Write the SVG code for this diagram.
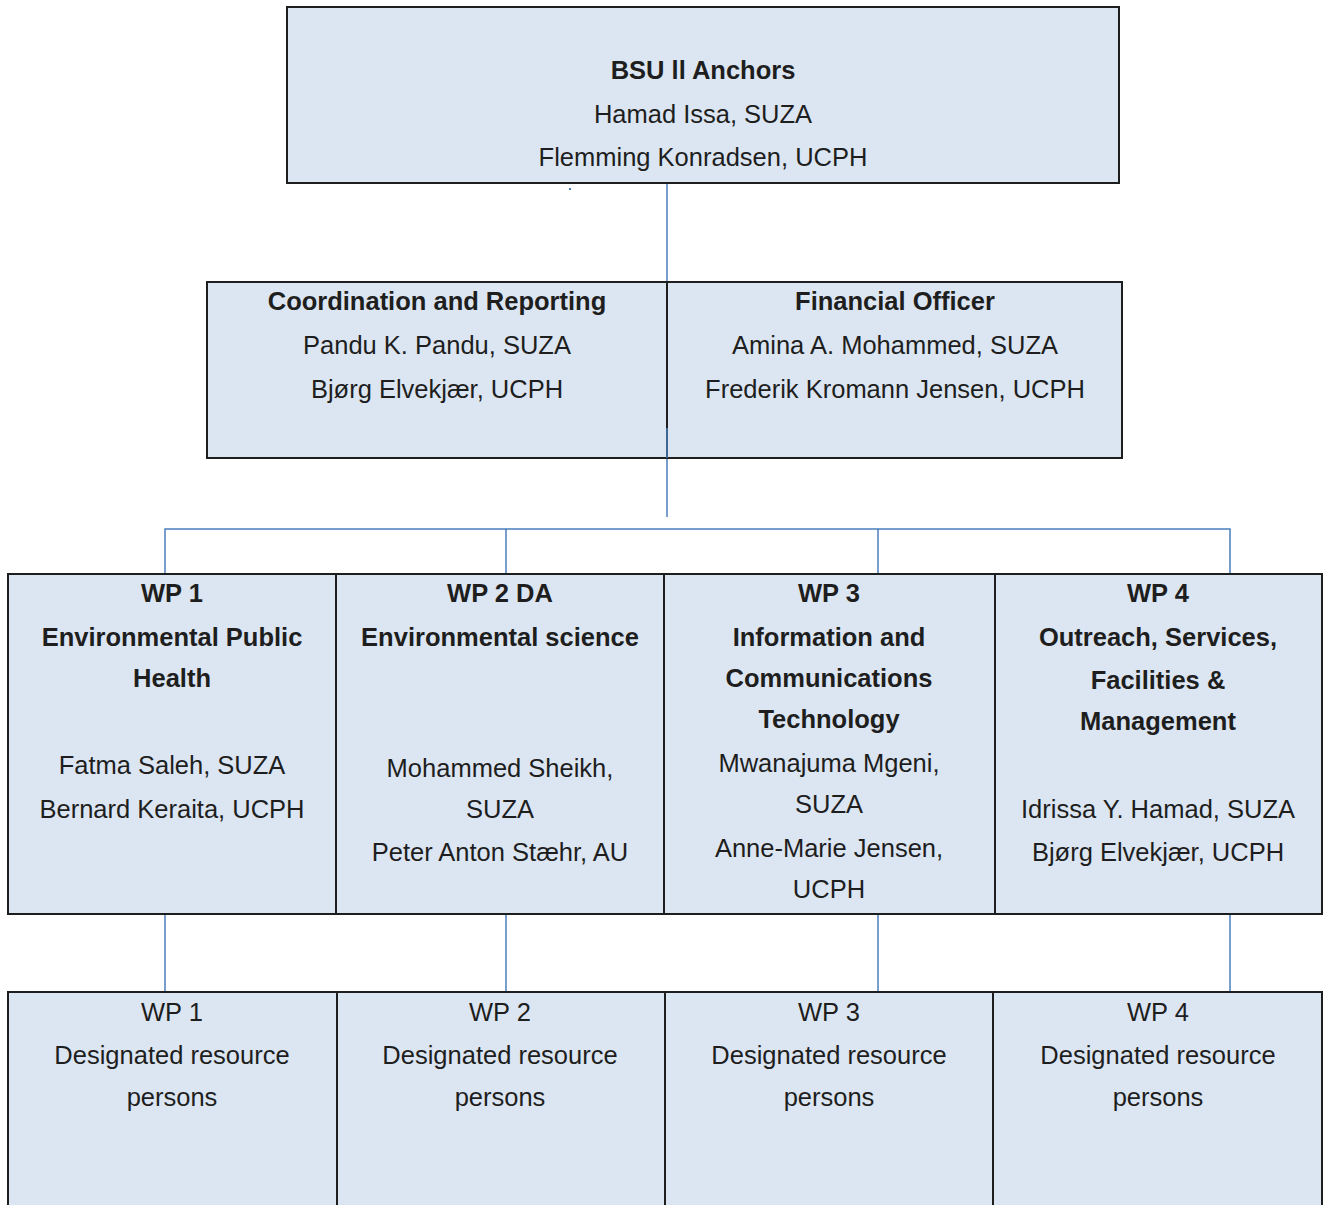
<svg xmlns="http://www.w3.org/2000/svg" width="1323" height="1205" viewBox="0 0 1323 1205">
<style>
.box{fill:#dce6f2;stroke:#1e1e1e;stroke-width:2}
.t{font-family:"Liberation Sans",Arial,sans-serif;font-size:25.5px;fill:#1e1e1e;text-anchor:middle}
.b{font-weight:bold}
.c{stroke:#4a7ebb;stroke-width:1.5;fill:none}
</style>
<rect width="1323" height="1205" fill="#ffffff"/>
<g id="connectors">
<line class="c" x1="667" y1="183" x2="667" y2="282"/>
<line class="c" x1="667" y1="428" x2="667" y2="517"/>
<polyline class="c" points="165,574 165,529 1230,529 1230,574"/>
<line class="c" x1="506" y1="529" x2="506" y2="574"/>
<line class="c" x1="878" y1="529" x2="878" y2="574"/>
<line class="c" x1="165" y1="914" x2="165" y2="992"/>
<line class="c" x1="506" y1="914" x2="506" y2="992"/>
<line class="c" x1="878" y1="914" x2="878" y2="992"/>
<line class="c" x1="1230" y1="914" x2="1230" y2="992"/>
<rect x="569" y="188" width="2" height="2" fill="#4a7ebb"/>
</g>
<g id="anchors">
<rect class="box" x="287" y="7" width="832" height="176"/>
<text class="t b" x="703" y="79">BSU ll Anchors</text>
<text class="t" x="703" y="123">Hamad Issa, SUZA</text>
<text class="t" x="703" y="166">Flemming Konradsen, UCPH</text>
</g>
<g id="coordination">
<rect class="box" x="207" y="282" width="460" height="176"/>
<text class="t b" x="437" y="310">Coordination and Reporting</text>
<text class="t" x="437" y="354">Pandu K. Pandu, SUZA</text>
<text class="t" x="437" y="398">Bjørg Elvekjær, UCPH</text>
</g>
<g id="financial">
<rect class="box" x="667" y="282" width="455" height="176"/>
<text class="t b" x="895" y="310">Financial Officer</text>
<text class="t" x="895" y="354">Amina A. Mohammed, SUZA</text>
<text class="t" x="895" y="398">Frederik Kromann Jensen, UCPH</text>
</g>
<line class="c" x1="667" y1="428" x2="667" y2="458"/>
<g id="wp1">
<rect class="box" x="8" y="574" width="328" height="340"/>
<text class="t b" x="172" y="602">WP 1</text>
<text class="t b" x="172" y="646">Environmental Public</text>
<text class="t b" x="172" y="687">Health</text>
<text class="t" x="172" y="774">Fatma Saleh, SUZA</text>
<text class="t" x="172" y="818">Bernard Keraita, UCPH</text>
</g>
<g id="wp2">
<rect class="box" x="336" y="574" width="328" height="340"/>
<text class="t b" x="500" y="602">WP 2 DA</text>
<text class="t b" x="500" y="646">Environmental science</text>
<text class="t" x="500" y="777">Mohammed Sheikh,</text>
<text class="t" x="500" y="818">SUZA</text>
<text class="t" x="500" y="861">Peter Anton Stæhr, AU</text>
</g>
<g id="wp3">
<rect class="box" x="664" y="574" width="331" height="340"/>
<text class="t b" x="829" y="602">WP 3</text>
<text class="t b" x="829" y="646">Information and</text>
<text class="t b" x="829" y="687">Communications</text>
<text class="t b" x="829" y="728">Technology</text>
<text class="t" x="829" y="772">Mwanajuma Mgeni,</text>
<text class="t" x="829" y="813">SUZA</text>
<text class="t" x="829" y="857">Anne-Marie Jensen,</text>
<text class="t" x="829" y="898">UCPH</text>
</g>
<g id="wp4">
<rect class="box" x="995" y="574" width="327" height="340"/>
<text class="t b" x="1158" y="602">WP 4</text>
<text class="t b" x="1158" y="646">Outreach, Services,</text>
<text class="t b" x="1158" y="689">Facilities &amp;</text>
<text class="t b" x="1158" y="730">Management</text>
<text class="t" x="1158" y="818">Idrissa Y. Hamad, SUZA</text>
<text class="t" x="1158" y="861">Bjørg Elvekjær, UCPH</text>
</g>
<g id="res1">
<rect class="box" x="8" y="992" width="329" height="220"/>
<text class="t" x="172" y="1021">WP 1</text>
<text class="t" x="172" y="1064">Designated resource</text>
<text class="t" x="172" y="1106">persons</text>
</g>
<g id="res2">
<rect class="box" x="337" y="992" width="328" height="220"/>
<text class="t" x="500" y="1021">WP 2</text>
<text class="t" x="500" y="1064">Designated resource</text>
<text class="t" x="500" y="1106">persons</text>
</g>
<g id="res3">
<rect class="box" x="665" y="992" width="328" height="220"/>
<text class="t" x="829" y="1021">WP 3</text>
<text class="t" x="829" y="1064">Designated resource</text>
<text class="t" x="829" y="1106">persons</text>
</g>
<g id="res4">
<rect class="box" x="993" y="992" width="329" height="220"/>
<text class="t" x="1158" y="1021">WP 4</text>
<text class="t" x="1158" y="1064">Designated resource</text>
<text class="t" x="1158" y="1106">persons</text>
</g>
</svg>
